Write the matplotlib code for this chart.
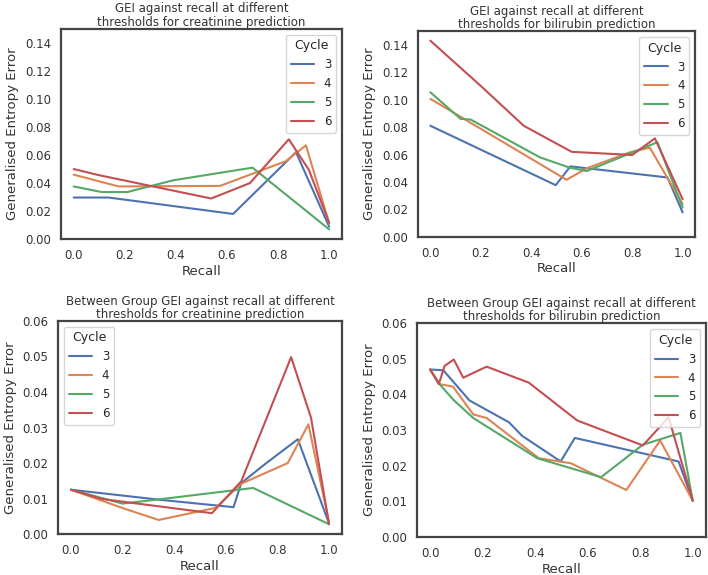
import matplotlib
matplotlib.use("Agg")
import matplotlib.pyplot as plt
import seaborn as sns

sns.set_style("white")
plt.rcParams['font.family'] = ['DejaVu Sans']

cycles = ["3", "4", "5", "6"]
colors = ['#4C72B0', '#DD8452', '#55A868', '#C44E52']

# GEI, creatinine
gei_cre_x = {
    "3": [0.0, 0.137, 0.624, 0.87, 1.0],
    "4": [0.0, 0.176, 0.573, 0.69, 0.83, 0.909, 1.0],
    "5": [0.0, 0.11, 0.21, 0.39, 0.70, 1.0],
    "6": [0.0, 0.10, 0.538, 0.69, 0.842, 0.92, 1.0],
}
gei_cre_y = {
    "3": [0.0297, 0.0297, 0.018, 0.062, 0.0089],
    "4": [0.046, 0.0376, 0.038, 0.046, 0.0556, 0.0669, 0.0113],
    "5": [0.0376, 0.0336, 0.0336, 0.042, 0.051, 0.007],
    "6": [0.050, 0.0456, 0.029, 0.040, 0.0712, 0.0496, 0.0117],
}

# GEI, bilirubin
gei_bil_x = {
    "3": [0.0, 0.497, 0.555, 0.94, 1.0],
    "4": [0.0, 0.54, 0.62, 0.79, 0.87, 1.0],
    "5": [0.0, 0.12, 0.16, 0.434, 0.55, 0.62, 0.90, 1.0],
    "6": [0.0, 0.2, 0.37, 0.56, 0.80, 0.89, 1.0],
}
gei_bil_y = {
    "3": [0.081, 0.0377, 0.0514, 0.0433, 0.0178],
    "4": [0.1006, 0.0416, 0.050, 0.0616, 0.065, 0.024],
    "5": [0.1054, 0.086, 0.0855, 0.058, 0.0506, 0.048, 0.069, 0.0214],
    "6": [0.143, 0.110, 0.081, 0.062, 0.0597, 0.0718, 0.0275],
}

# Between group GEI, creatinine
bg_cre_x = {
    "3": [0.0, 0.354, 0.63, 0.66, 0.757, 0.879, 1.0],
    "4": [0.0, 0.21, 0.34, 0.56, 0.66, 0.84, 0.92, 1.0],
    "5": [0.0, 0.2, 0.354, 0.706, 1.0],
    "6": [0.0, 0.12, 0.546, 0.66, 0.853, 0.93, 1.0],
}
bg_cre_y = {
    "3": [0.0125, 0.0096, 0.0076, 0.0144, 0.020, 0.0267, 0.003],
    "4": [0.0125, 0.0071, 0.004, 0.0074, 0.0142, 0.020, 0.0309, 0.0033],
    "5": [0.0125, 0.0086, 0.0099, 0.013, 0.0028],
    "6": [0.0125, 0.0099, 0.0059, 0.0149, 0.0498, 0.0328, 0.0028],
}

# Between group GEI, bilirubin
bg_bil_x = {
    "3": [0.0, 0.05, 0.15, 0.30, 0.35, 0.497, 0.551, 0.946, 1.0],
    "4": [0.0, 0.036, 0.087, 0.164, 0.215, 0.414, 0.536, 0.747, 0.876, 1.0],
    "5": [0.0, 0.036, 0.087, 0.164, 0.408, 0.651, 0.81, 0.953, 1.0],
    "6": [0.0, 0.033, 0.055, 0.09, 0.126, 0.215, 0.376, 0.56, 0.81, 0.908, 1.0],
}
bg_bil_y = {
    "3": [0.047, 0.0468, 0.0383, 0.0322, 0.0284, 0.0212, 0.0278, 0.0212, 0.0102],
    "4": [0.047, 0.0429, 0.0422, 0.0344, 0.0334, 0.0221, 0.0207, 0.0132, 0.0271, 0.0102],
    "5": [0.047, 0.0429, 0.0386, 0.0334, 0.0221, 0.0168, 0.0259, 0.0292, 0.0102],
    "6": [0.047, 0.0429, 0.048, 0.0498, 0.0447, 0.0478, 0.0433, 0.0327, 0.0257, 0.0336, 0.0102],
}

panels = [
    ([0.086, 0.584, 0.397, 0.366], gei_cre_x, gei_cre_y,
     "GEI against recall at different\nthresholds for creatinine prediction",
     (0, 0.15), [0, 0.02, 0.04, 0.06, 0.08, 0.10, 0.12, 0.14], "upper right"),
    ([0.590, 0.588, 0.392, 0.358], gei_bil_x, gei_bil_y,
     "GEI against recall at different\nthresholds for bilirubin prediction",
     (0, 0.15), [0, 0.02, 0.04, 0.06, 0.08, 0.10, 0.12, 0.14], "upper right"),
    ([0.082, 0.071, 0.401, 0.371], bg_cre_x, bg_cre_y,
     "Between Group GEI against recall at different\nthresholds for creatinine prediction",
     (0, 0.06), [0, 0.01, 0.02, 0.03, 0.04, 0.05, 0.06], "upper left"),
    ([0.589, 0.066, 0.408, 0.372], bg_bil_x, bg_bil_y,
     "Between Group GEI against recall at different\nthresholds for bilirubin prediction",
     (0, 0.06), [0, 0.01, 0.02, 0.03, 0.04, 0.05, 0.06], "upper right"),
]

fig = plt.figure(figsize=(7.08, 5.75), dpi=100)

for rect, xs, ys, title, ylim, yticks, loc in panels:
    ax = fig.add_axes(rect)
    for c, col in zip(cycles, colors):
        ax.plot(xs[c], ys[c], color=col, lw=1.5, label=c)
    ax.set_ylim(*ylim)
    ax.set_yticks(yticks)
    ax.set_yticklabels([f"{t:.2f}" for t in yticks])
    ax.set_xticks([0, 0.2, 0.4, 0.6, 0.8, 1.0])
    ax.set_xlim(-0.05, 1.05)
    ax.tick_params(labelsize=8.5, colors='#333333')
    ax.set_xlabel("Recall", fontsize=9.5, color='#333333', labelpad=2)
    ax.set_ylabel("Generalised Entropy Error", fontsize=9.5, color='#333333')
    ax.set_title(title, fontsize=8.5, color='#333333', pad=2, linespacing=1.05)
    for sp in ax.spines.values():
        sp.set_color('#444444')
        sp.set_linewidth(1.6)
    leg = ax.legend(title="Cycle", loc=loc, fontsize=8.5, title_fontsize=9)
    for t in leg.get_texts():
        t.set_ha('right')

fig.savefig("out.png", dpi=100)
